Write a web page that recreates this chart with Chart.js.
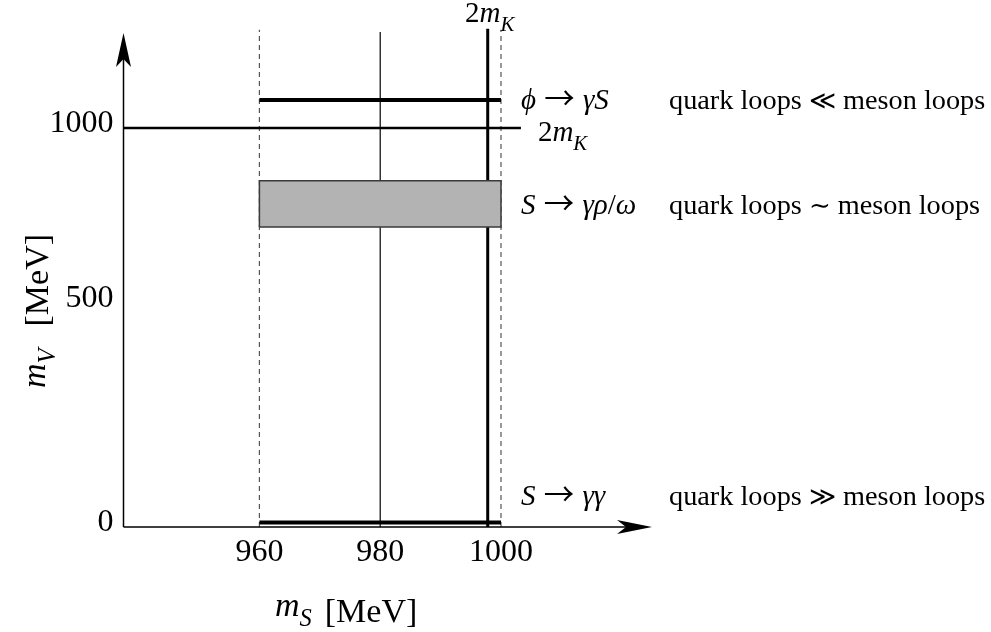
<!DOCTYPE html>
<html><head><meta charset="utf-8">
<script src="https://cdn.jsdelivr.net/npm/chart.js@4"></script>
<style>html,body{margin:0;padding:0;background:#fff}#wrap{width:991px;height:632px;position:relative}</style>
</head><body><div id="wrap"><canvas id="c"></canvas></div>
<script>
// ---- data (MeV) ----
const X_TICKS = [960, 980, 1000];
const Y_TICKS = [0, 500, 1000];
const X_RANGE = [937.5, 1025];
const Y_RANGE = [0, 1271];
const S_WINDOW = [960, 1000];          // scalar mass window (dashed lines)
const PHI_MV = 1080;                    // phi -> gamma S
const RHO_BAND = [717, 849];            // S -> gamma rho/omega band
const GG_MV = 10;                       // S -> gamma gamma
const TWO_MK_MV = 1000;                 // horizontal 2 m_K line
const TWO_MK_MV_END = 1003.3;
const TWO_MK_MS = 997.8;                // vertical 2 m_K line
const MID_MS = 980;                     // thin vertical line
const LINE_TOPS = [1280, 1283, 1274];   // tops of dashed / 2mK / thin verticals
const PROCESS_LABELS = ['ϕ → γS', 'S → γρ/ω', 'S → γγ'];
const LOOP_NOTES = ['quark loops ≪ meson loops', 'quark loops ∼ meson loops', 'quark loops ≫ meson loops'];
const PROCESS_MV = [PHI_MV, (RHO_BAND[0] + RHO_BAND[1]) / 2, GG_MV];
const X_TITLE = ['m', 'S', '[MeV]'];
const Y_TITLE = ['m', 'V', '[MeV]'];
const MK_LABEL = ['2', 'm', 'K'];

// ---- a piecewise-linear value axis (the reference's m_V axis is not uniform) ----
const KNOTS = [[0, 0], [500, 0.4534], [1000, 0.8077], [1271, 1]];
class PiecewiseScale extends Chart.LinearScale {
  _frac(v) {
    const k = KNOTS;
    let i = 0;
    while (i < k.length - 2 && v > k[i + 1][0]) i++;
    const a = k[i], b = k[i + 1];
    return a[1] + (v - a[0]) * (b[1] - a[1]) / (b[0] - a[0]);
  }
  getPixelForValue(v) { return this.getPixelForDecimal(this._frac(v)); }
  getValueForPixel(p) {
    const d = this.getDecimalForPixel(p);
    const k = KNOTS;
    let i = 0;
    while (i < k.length - 2 && d > k[i + 1][1]) i++;
    const a = k[i], b = k[i + 1];
    return a[0] + (d - a[1]) * (b[0] - a[0]) / (b[1] - a[1]);
  }
}
PiecewiseScale.id = 'piecewise';
PiecewiseScale.defaults = Chart.LinearScale.defaults;
Chart.register(PiecewiseScale);

const SERIF = '"Liberation Serif", "DejaVu Serif", serif';
const SYMF = '"DejaVu Serif", "Liberation Serif", serif';
const ARROWF = '"Noto Sans CJK JP", "DejaVu Sans", sans-serif';
const seg = (x0, y0, x1, y1) => [{x: x0, y: y0}, {x: x1, y: y1}];
const lineDs = (data, w, color, dash) => ({
  data, borderColor: color || '#000', borderWidth: w, borderDash: dash || [],
  pointRadius: 0, fill: false, clip: false, tension: 0, borderCapStyle: 'butt'
});

const datasets = [
  lineDs([{x: S_WINDOW[0], y: RHO_BAND[0]}, {x: S_WINDOW[0], y: RHO_BAND[1]}, {x: S_WINDOW[1], y: RHO_BAND[1]},
          {x: S_WINDOW[1], y: RHO_BAND[0]}, {x: S_WINDOW[0], y: RHO_BAND[0]}], 1.5, '#3a3a3a'),
  Object.assign(lineDs(seg(S_WINDOW[0], RHO_BAND[1], S_WINDOW[1], RHO_BAND[1]), 0, 'rgba(0,0,0,0)'),
                {fill: '+1', backgroundColor: '#b3b3b3'}),
  lineDs(seg(S_WINDOW[0], RHO_BAND[0], S_WINDOW[1], RHO_BAND[0]), 0, 'rgba(0,0,0,0)'),
  lineDs(seg(S_WINDOW[0], PHI_MV, S_WINDOW[1], PHI_MV), 4),
  lineDs(seg(S_WINDOW[0], GG_MV, S_WINDOW[1], GG_MV), 4),
  lineDs(seg(X_RANGE[0], TWO_MK_MV, TWO_MK_MV_END, TWO_MK_MV), 2.4),
  lineDs(seg(TWO_MK_MS, Y_RANGE[0], TWO_MK_MS, LINE_TOPS[1]), 3),
  lineDs(seg(MID_MS, Y_RANGE[0], MID_MS, LINE_TOPS[2]), 1.2),
  lineDs(seg(S_WINDOW[0], Y_RANGE[0], S_WINDOW[0], LINE_TOPS[0]), 1.2, '#555', [5, 4]),
  lineDs(seg(S_WINDOW[1], Y_RANGE[0], S_WINDOW[1], LINE_TOPS[0]), 1.2, '#555', [5, 4])
];

const isSym = ch => /[→∼≪≫]/.test(ch);
function runFont(r, size) {
  const s = r.sub ? size * 0.72 : size;
  if (r.sym && r.t === '→') return s * 1.05 + 'px ' + ARROWF;
  if (r.sym) return s * 0.92 + 'px ' + SYMF;
  return (r.it ? 'italic ' : '') + s + 'px ' + SERIF;
}
function drawRuns(ctx, runs, x, y, size) {
  let cx = x;
  for (const r of runs) {
    ctx.font = runFont(r, size);
    ctx.fillText(r.t, cx, y + (r.sub ? size * 0.3 : 0) + (r.dy || 0));
    cx += ctx.measureText(r.t).width + (r.gap || 0);
  }
  return cx - x;
}
function measureRuns(ctx, runs, size) {
  let w = 0;
  for (const r of runs) {
    ctx.font = runFont(r, size);
    w += ctx.measureText(r.t).width + (r.gap || 0);
  }
  return w;
}
function splitRuns(str, math) {
  const runs = [];
  for (const ch of str) {
    const sym = isSym(ch);
    const it = math && !sym && /[A-Za-z\u03b1-\u03c9\u03d5]/.test(ch);
    const last = runs[runs.length - 1];
    if (last && !sym && !last.sym && last.it === it) last.t += ch;
    else runs.push({t: ch, it, sym, gap: 0});
  }
  if (math) runs.forEach(r => { if (r.t === ' ') r.gap = 1; });
  return runs;
}

const overlay = {
  id: 'overlay',
  afterDraw(chart) {
    const ctx = chart.ctx, a = chart.chartArea;
    const xs = chart.scales.x, ys = chart.scales.y;
    ctx.save();
    ctx.fillStyle = '#000'; ctx.strokeStyle = '#000';
    ctx.lineWidth = 1.5;
    ctx.beginPath();
    ctx.moveTo(a.left, a.bottom); ctx.lineTo(a.left, a.top + 20);
    ctx.moveTo(a.left, a.bottom); ctx.lineTo(a.right - 20, a.bottom);
    ctx.stroke();
    ctx.beginPath();
    ctx.moveTo(a.left, a.top); ctx.lineTo(a.left - 7.5, a.top + 34);
    ctx.lineTo(a.left, a.top + 26); ctx.lineTo(a.left + 7.5, a.top + 34); ctx.closePath();
    ctx.moveTo(a.right, a.bottom); ctx.lineTo(a.right - 35, a.bottom - 7);
    ctx.lineTo(a.right - 26, a.bottom); ctx.lineTo(a.right - 35, a.bottom + 7); ctx.closePath();
    ctx.fill();

    ctx.textBaseline = 'alphabetic'; ctx.textAlign = 'left';
    const x0 = xs.getPixelForValue(S_WINDOW[1]);
    const offs = [9, 10, -18];
    PROCESS_LABELS.forEach((lab, i) => {
      const yb = ys.getPixelForValue(PROCESS_MV[i]) + offs[i];
      drawRuns(ctx, splitRuns(lab, true), x0 + 20, yb, 29);
      drawRuns(ctx, splitRuns(LOOP_NOTES[i], false), x0 + 168, yb, 28.3);
    });
    const mk = [{t: MK_LABEL[0]}, {t: MK_LABEL[1], it: true}, {t: MK_LABEL[2], it: true, sub: true}];
    const vx = xs.getPixelForValue(TWO_MK_MS);
    const w = measureRuns(ctx, mk, 29);
    drawRuns(ctx, mk, vx - w / 2 + 2, 22, 29);
    drawRuns(ctx, mk, xs.getPixelForValue(TWO_MK_MV_END) + 17, ys.getPixelForValue(TWO_MK_MV) + 13, 29);
    const xt = [{t: X_TITLE[0], it: true}, {t: X_TITLE[1], it: true, sub: true, gap: 13}, {t: X_TITLE[2], dy: 6}];
    drawRuns(ctx, xt, 275, 616, 34);
    ctx.translate(45, 0); ctx.rotate(-Math.PI / 2);
    const yt = [{t: Y_TITLE[0], it: true}, {t: Y_TITLE[1], it: true, sub: true, gap: 22}, {t: Y_TITLE[2], dy: 3}];
    drawRuns(ctx, yt, -388, 0, 34);
    ctx.restore();
  }
};

new Chart(document.getElementById('c'), {
  type: 'line',
  data: {datasets},
  options: {
    responsive: true, maintainAspectRatio: false, animation: false,
    layout: {padding: {left: 0, right: 339, top: 33, bottom: 0}},
    plugins: {legend: {display: false}, tooltip: {enabled: false}},
    scales: {
      x: {
        type: 'linear', min: X_RANGE[0], max: X_RANGE[1],
        grid: {display: false}, border: {display: false},
        afterBuildTicks: s => { s.ticks = X_TICKS.map(v => ({value: v})); },
        afterFit: s => { s.height = 105; },
        ticks: {color: '#000', font: {family: SERIF, size: 32}, padding: -2, callback: v => String(v), maxRotation: 0}
      },
      y: {
        type: 'piecewise', min: Y_RANGE[0], max: Y_RANGE[1],
        grid: {display: false}, border: {display: false},
        afterBuildTicks: s => { s.ticks = Y_TICKS.map(v => ({value: v})); },
        afterFit: s => { s.width = 123.5; },
        ticks: {color: '#000', font: {family: SERIF, size: 32}, padding: 2, labelOffset: -4, callback: v => String(v)}
      }
    }
  },
  plugins: [overlay]
});
</script></body></html>
